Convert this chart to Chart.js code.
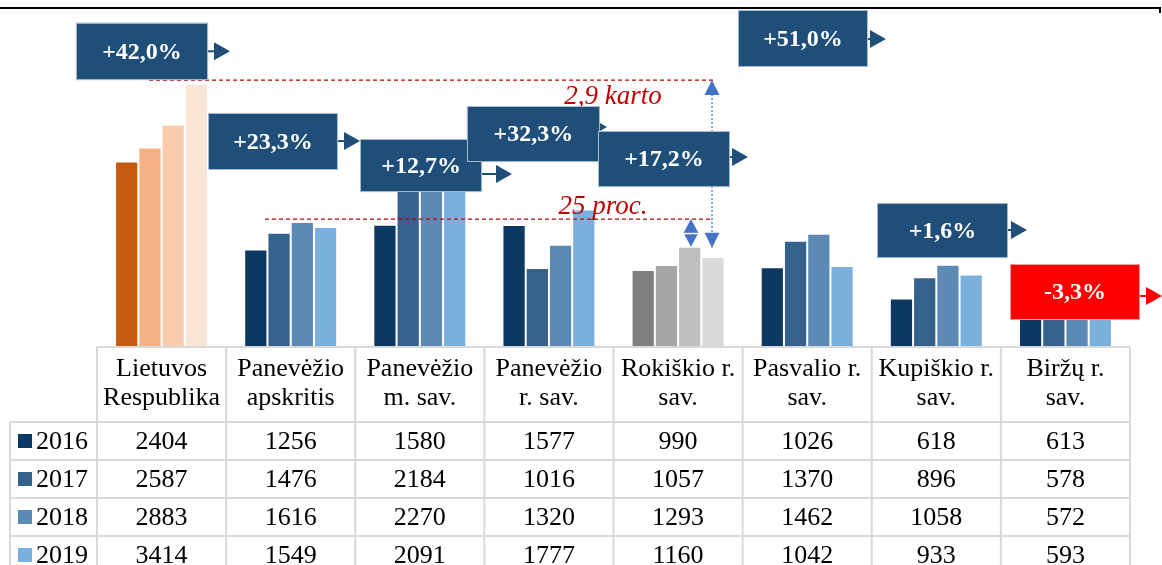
<!DOCTYPE html>
<html><head><meta charset="utf-8">
<script src="https://cdn.jsdelivr.net/npm/chart.js@4.4.1/dist/chart.umd.min.js"></script>
<style>html,body{margin:0;padding:0;background:#fff;overflow:hidden}</style>
</head><body>
<canvas id="c" width="1162" height="565"></canvas>
<script>
// ---- data ----
const categories = [["Lietuvos","Respublika"],["Panevėžio","apskritis"],["Panevėžio","m. sav."],["Panevėžio","r. sav."],["Rokiškio r.","sav."],["Pasvalio r.","sav."],["Kupiškio r.","sav."],["Biržų r.","sav."]];
const years = ["2016","2017","2018","2019"];
const v2016 = [2404,1256,1580,1577,990,1026,618,613];
const v2017 = [2587,1476,2184,1016,1057,1370,896,578];
const v2018 = [2883,1616,2270,1320,1293,1462,1058,572];
const v2019 = [3414,1549,2091,1777,1160,1042,933,593];
const seriesValues = [v2016, v2017, v2018, v2019];

// ---- styles ----
const blue = ["#0D3862","#34628C","#5B8AB4","#7BB0DD"];
const orange = ["#C55A11","#F4B183","#F8CBAD","#FBE5D6"];
const gray = ["#7F7F7F","#A6A6A6","#BFBFBF","#D9D9D9"];
function colorsFor(s){ return categories.map((c,i)=> i===0?orange[s]:(i===4?gray[s]:blue[s])); }

// change boxes: category index -> box placement (category units / value units)
const boxes = [
  {cat:0, x1:-0.663, x2:0.360, y1:4210, y2:3465, tipX:0.530, arrowY:3840},
  {cat:1, x1:0.360, x2:1.366, y1:3036, y2:2293, tipX:1.537, arrowY:2670},
  {cat:3, x1:1.537, x2:2.482, y1:2697, y2:2006, tipX:2.714, arrowY:2241},
  {cat:2, x1:2.365, x2:3.395, y1:3127, y2:2397, tipX:3.450, arrowY:2853},
  {cat:4, x1:3.380, x2:4.402, y1:2801, y2:2071, tipX:4.542, arrowY:2462},
  {cat:6, x1:4.464, x2:5.471, y1:4378, y2:3635, tipX:5.610, arrowY:4000},
  {cat:5, x1:5.541, x2:6.555, y1:1862, y2:1146, tipX:6.702, arrowY:1511},
  {cat:7, x1:6.571, x2:7.577, y1:1068, y2:339,  tipX:7.748, arrowY:652}
];
function changeText(cat){
  const p = (seriesValues[3][cat]/seriesValues[0][cat]-1)*100;
  return (p>=0?"+":"-")+Math.abs(p).toFixed(1).replace(".",",")+"%";
}

const overlay = {
  id:"overlay",
  afterDraw(chart){
    const ctx = chart.ctx, xs = chart.scales.x, ys = chart.scales.y, ca = chart.chartArea;
    const step = xs.getPixelForValue(1) - xs.getPixelForValue(0);
    const X = u => xs.getPixelForValue(0) + u*step;
    const Y = v => ys.getPixelForValue(v);
    ctx.save();
    // frame line at top
    ctx.strokeStyle="#000"; ctx.lineWidth=2;
    ctx.beginPath(); ctx.moveTo(0,8); ctx.lineTo(1160,8); ctx.lineTo(1160,13); ctx.stroke();

    // ---- table ----
    const top = ca.bottom+1, headH = 75, rowH = 38;
    const left = X(-0.5), right = X(7.5), labL = 10;
    ctx.strokeStyle="#D9D9D9"; ctx.lineWidth=2;
    ctx.beginPath();
    ctx.moveTo(left,top); ctx.lineTo(right,top);
    for(let r=0;r<4;r++){ const y=top+headH+r*rowH; ctx.moveTo(labL,y); ctx.lineTo(right,y); }
    for(let i=0;i<=8;i++){ const x=X(i-0.5); ctx.moveTo(x,top); ctx.lineTo(x,565); }
    ctx.moveTo(labL,top+headH); ctx.lineTo(labL,565);
    ctx.stroke();
    ctx.fillStyle="#000"; ctx.textAlign="center"; ctx.textBaseline="middle";
    ctx.font="26px 'Liberation Serif'";
    categories.forEach((c,i)=>{
      ctx.fillText(c[0], X(i), top+22);
      ctx.fillText(c[1], X(i), top+51);
    });
    years.forEach((y,r)=>{
      const cy = top+headH+r*rowH+rowH/2;
      ctx.fillStyle=blue[r]; ctx.fillRect(18, cy-7, 14, 14);
      ctx.fillStyle="#000"; ctx.textAlign="left"; ctx.fillText(y, 36, cy+1);
      ctx.textAlign="center";
      seriesValues[r].forEach((v,i)=> ctx.fillText(String(v), X(i), cy+1));
    });

    // ---- red dashed reference lines ----
    ctx.strokeStyle="#C00000"; ctx.lineWidth=1.3; ctx.setLineDash([4,3]);
    ctx.beginPath();
    ctx.moveTo(X(-0.097),Y(3465)); ctx.lineTo(X(4.271),Y(3465));
    ctx.moveTo(X(0.801),Y(1654)); ctx.lineTo(X(4.247),Y(1654));
    ctx.stroke(); ctx.setLineDash([]);
    ctx.fillStyle="#C00000"; ctx.font="italic 27px 'Liberation Serif'";
    ctx.fillText("2,9 karto", X(3.497), Y(3245));
    ctx.fillText("25 proc.", X(3.419), Y(1810));

    // ---- blue dotted arrows ----
    const ab="#4472C4";
    ctx.strokeStyle=ab; ctx.lineWidth=1.2; ctx.setLineDash([2,2]);
    const dx = X(4.263);
    ctx.beginPath(); ctx.moveTo(dx,Y(3440)); ctx.lineTo(dx,Y(1280)); ctx.stroke(); ctx.setLineDash([]);
    ctx.fillStyle=ab;
    function tri(x,yTip,yBase,w){ ctx.beginPath(); ctx.moveTo(x,yTip); ctx.lineTo(x-w/2,yBase); ctx.lineTo(x+w/2,yBase); ctx.closePath(); ctx.fill(); }
    tri(dx, Y(3465), Y(3465)+15, 15);
    tri(dx, Y(1280), Y(1280)-15, 15);
    const dx2 = X(4.100);
    tri(dx2, Y(1654), Y(1654)+14, 15);
    tri(dx2, Y(1293), Y(1293)-14, 15);
    ctx.strokeStyle="#fff"; ctx.lineWidth=1.5;
    ctx.beginPath(); ctx.moveTo(dx2-8,Y(1654)+14.5); ctx.lineTo(dx2+8,Y(1654)+14.5); ctx.stroke();

    // ---- change boxes ----
    ctx.font="bold 24px 'Liberation Serif'";
    boxes.forEach(b=>{
      const txt = changeText(b.cat);
      const neg = txt[0]==="-";
      const fill = neg? "#FF0000" : "#1F4E79";
      const x1=X(b.x1), x2=X(b.x2), y1=Y(b.y1), y2=Y(b.y2), ay=Y(b.arrowY), tx=X(b.tipX);
      ctx.strokeStyle=fill; ctx.lineWidth=2;
      ctx.beginPath(); ctx.moveTo(x2,ay); ctx.lineTo(tx-15,ay); ctx.stroke();
      ctx.fillStyle=fill;
      ctx.beginPath(); ctx.moveTo(tx,ay); ctx.lineTo(tx-16,ay-9); ctx.lineTo(tx-16,ay+9); ctx.closePath(); ctx.fill();
      ctx.fillStyle=fill; ctx.fillRect(x1,y1,x2-x1,y2-y1);
      ctx.strokeStyle= neg? "#FF9999" : "#A9BCD0"; ctx.lineWidth=1;
      ctx.strokeRect(x1+0.5,y1+0.5,x2-x1-1,y2-y1-1);
      ctx.fillStyle="#fff"; ctx.textAlign="center"; ctx.textBaseline="middle";
      ctx.fillText(txt,(x1+x2)/2,(y1+y2)/2+1);
    });
    ctx.restore();
  }
};

new Chart(document.getElementById("c"),{
  type:"bar",
  data:{
    labels: categories,
    datasets: years.map((y,s)=>({
      label:y, data:seriesValues[s], backgroundColor:colorsFor(s),
      borderColor:"rgba(255,255,255,0.45)", borderWidth:{top:1,left:1,right:1,bottom:0}
    }))
  },
  options:{
    responsive:false, animation:false,
    layout:{padding:{left:97,right:32,top:39,bottom:219}},
    plugins:{legend:{display:false},tooltip:{enabled:false}},
    datasets:{bar:{categoryPercentage:0.72,barPercentage:1}},
    scales:{
      x:{display:false, offset:true},
      y:{display:false, min:0, max:4000}
    }
  },
  plugins:[overlay]
});
</script>
</body></html>
